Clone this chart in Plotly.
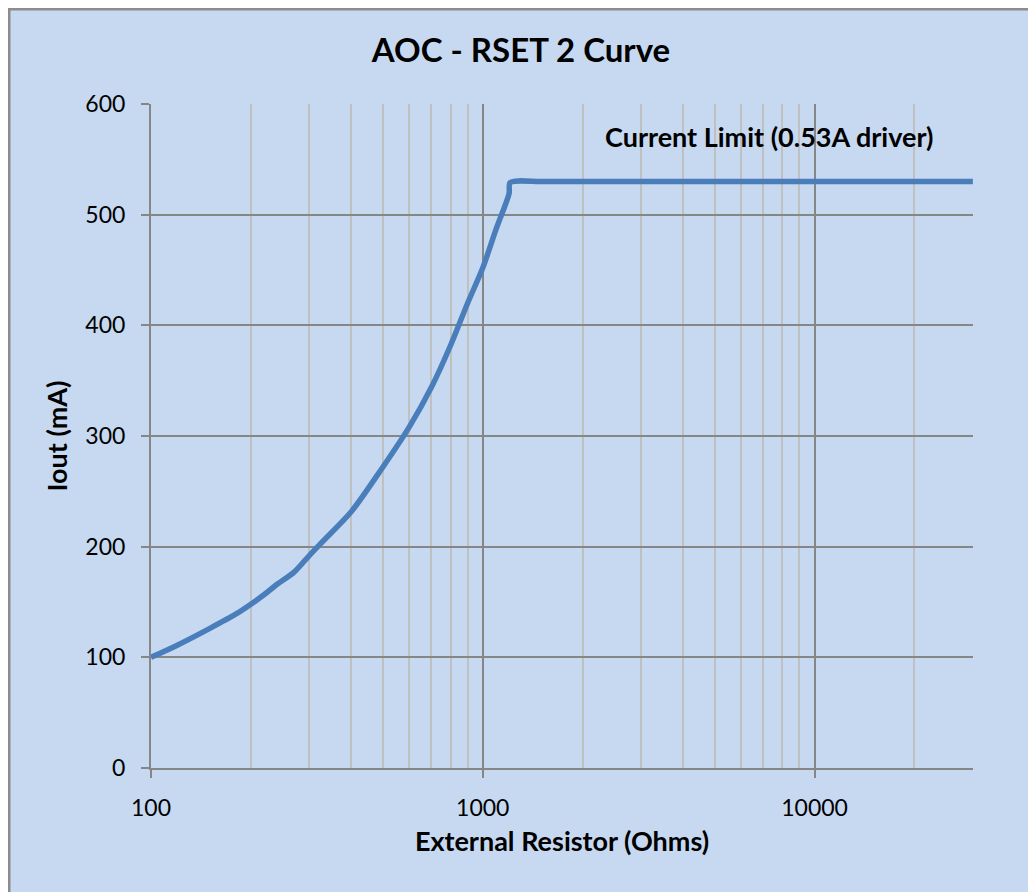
import plotly.graph_objects as go

# Data
resistance_ohms = [100, 120, 150, 180, 200, 220, 240, 270, 300, 330, 400, 500,
                   600, 700, 800, 900, 1000, 1100, 1200, 1210, 1500, 2000,
                   5000, 10000, 30000]
iout_ma = [100, 111, 126, 139, 148, 157, 166, 177, 192, 205, 231, 272,
           308, 344, 382, 420, 452, 488, 519, 529, 530, 530,
           530, 530, 530]

x_tick_vals = [100, 1000, 10000]
x_tick_text = ["100", "1000", "10000"]
x_minor_vals = [200, 300, 400, 500, 600, 700, 800, 900,
                2000, 3000, 4000, 5000, 6000, 7000, 8000, 9000, 20000, 30000]
y_tick_vals = [0, 100, 200, 300, 400, 500, 600]

title_text = "AOC - RSET 2 Curve"
x_title = "External Resistor (Ohms)"
y_title = "Iout (mA)"
note_text = "Current Limit (0.53A driver)"

FONT = "Lato"
AXIS_GRAY = "#868686"
MINOR_GRAY = "#c0c0c0"
BG_BLUE = "#C6D9F1"

# page has an 8px body margin; figure coordinates = page coordinates - 8
OFF = 8
W, H = 1036 - OFF, 892 - OFF
L, T = 151 - OFF, 104 - OFF
R, B = 1036 - 973, 892 - 768
pw, ph = W - L - R, H - T - B


def px_x(p):
    return (p - OFF - L) / pw


def px_y(p):
    return (H - B - (p - OFF)) / ph


fig = go.Figure()
fig.add_trace(go.Scatter(
    x=resistance_ohms, y=iout_ma, mode="lines",
    line=dict(color="#4A7EBB", width=5.5, shape="spline", smoothing=0.8),
    showlegend=False, hoverinfo="x+y",
))

fig.update_layout(
    width=W, height=H,
    margin=dict(l=L, r=R, t=T, b=B, pad=0),
    paper_bgcolor="white",
    plot_bgcolor="white",
    font=dict(family=FONT, color="black", size=23),
    title=dict(text="<b>" + title_text + "</b>", x=(521 - OFF) / W, xanchor="center",
               y=1 - (50 - OFF) / H, yanchor="middle", font=dict(size=33, family=FONT)),
    xaxis=dict(
        type="log", range=[2, 4.4775],
        tickmode="array", tickvals=x_tick_vals, ticktext=x_tick_text,
        ticks="outside", ticklen=8, tickwidth=2, tickcolor=AXIS_GRAY,
        ticklabelstandoff=10,
        showline=True, linecolor=AXIS_GRAY, linewidth=2,
        showgrid=True, gridcolor=AXIS_GRAY, gridwidth=1.5,
        minor=dict(tickmode="array", tickvals=x_minor_vals, showgrid=True,
                   gridcolor=MINOR_GRAY, gridwidth=1.5, ticks=""),
        title=dict(text="<b>" + x_title + "</b>", standoff=13, font=dict(size=27)),
        tickfont=dict(size=23),
        zeroline=False,
    ),
    yaxis=dict(
        range=[0, 600], tickmode="array", tickvals=y_tick_vals,
        ticks="outside", ticklen=8, tickwidth=2, tickcolor=AXIS_GRAY,
        ticklabelstandoff=11,
        showline=True, linecolor=AXIS_GRAY, linewidth=2,
        showgrid=True, gridcolor=AXIS_GRAY, gridwidth=1.5,
        title=dict(text="<b>" + y_title + "</b>", standoff=10, font=dict(size=27)),
        tickfont=dict(size=23),
        zeroline=False,
    ),
    shapes=[
        dict(type="rect", xref="paper", yref="paper",
             x0=px_x(9), x1=px_x(1034), y0=px_y(910), y1=px_y(9),
             line=dict(color="#8c8c8c", width=3), fillcolor=BG_BLUE, layer="below"),
    ],
    annotations=[
        dict(text="<b>" + note_text + "</b>", xref="paper", yref="paper",
             x=px_x(935), y=px_y(137), xanchor="right", yanchor="middle",
             showarrow=False, font=dict(size=27, family=FONT)),
    ],
)

fig.write_html("out.html")
